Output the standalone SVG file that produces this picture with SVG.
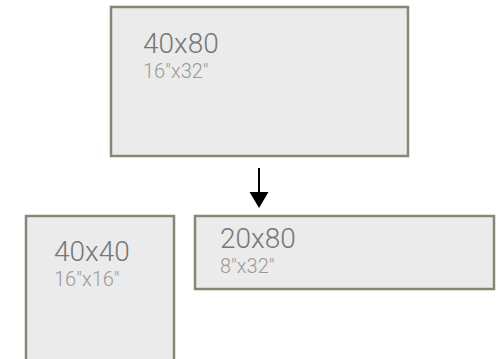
<svg xmlns="http://www.w3.org/2000/svg" width="501" height="359" viewBox="0 0 501 359">
<defs>
<style>
.box{fill:#ebebeb;stroke:#878778;stroke-width:2.5}
.t1{font-family:Roboto,"Liberation Sans",sans-serif;font-weight:300;font-size:28px;fill:#777}
.t2{font-family:Roboto,"Liberation Sans",sans-serif;font-weight:300;font-size:20px;fill:#999}
</style>
<marker id="ah" markerWidth="10" markerHeight="9" refX="10" refY="4.5" orient="auto" markerUnits="userSpaceOnUse">
<path d="M0,0 L10,4.5 L0,9 z" fill="#000"/>
</marker>
</defs>
<rect width="501" height="359" fill="#fff"/>
<g id="n1">
<rect class="box" x="111" y="7" width="297" height="149"/>
<text class="t1" x="143" y="53">40x80</text>
<text class="t2" x="143" y="78">16"x32"</text>
</g>
<g id="n2">
<rect class="box" x="26" y="216" width="148" height="150"/>
<text class="t1" x="54" y="261">40x40</text>
<text class="t2" x="54" y="286">16"x16"</text>
</g>
<g id="n3">
<rect class="box" x="195" y="216" width="299" height="73"/>
<text class="t1" x="220" y="248">20x80</text>
<text class="t2" x="220" y="273">8"x32"</text>
</g>
<g id="connectors">
<line x1="259" y1="168" x2="259" y2="192" stroke="#000" stroke-width="2"/>
<path d="M249.5,192 L268.5,192 L259,208 z" fill="#000"/>
</g>
</svg>
